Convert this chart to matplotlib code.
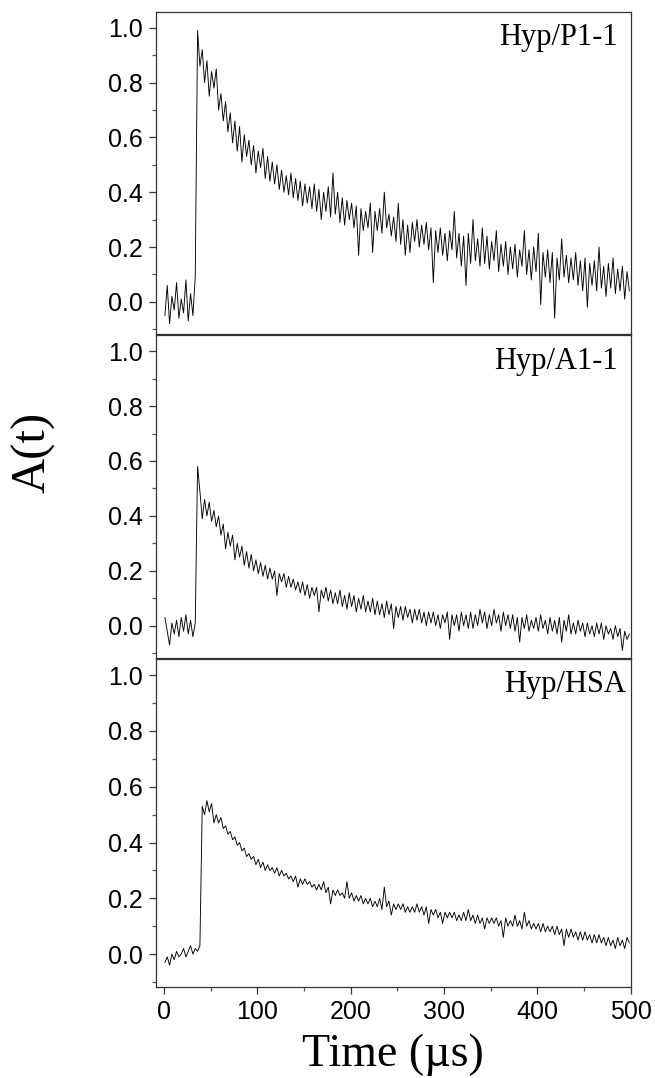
import numpy as np
import matplotlib
matplotlib.use("Agg")
import matplotlib.pyplot as plt
from matplotlib.ticker import MultipleLocator, FormatStrFormatter

# 时间轴 (µs)，每 2.5 µs 取一个点
t = np.arange(1, 500, 2.5)

# 三条瞬态吸收曲线，从图上读出的数值
a_p1 = [-0.05, 0.06, -0.08, 0.02, -0.03, 0.07, -0.06, 0.01, -0.04, 0.08,
        -0.07, 0.03, -0.05, 0.09, 0.99, 0.86, 0.92, 0.80, 0.88, 0.75,
        0.84, 0.78, 0.85, 0.70, 0.76, 0.66, 0.73, 0.62, 0.69, 0.58,
        0.66, 0.55, 0.64, 0.51, 0.61, 0.53, 0.59, 0.50, 0.57, 0.47,
        0.55, 0.49, 0.56, 0.45, 0.53, 0.44, 0.51, 0.43, 0.50, 0.41,
        0.48, 0.40, 0.46, 0.39, 0.47, 0.38, 0.45, 0.37, 0.44, 0.35,
        0.43, 0.36, 0.42, 0.34, 0.43, 0.33, 0.41, 0.30, 0.40, 0.33,
        0.42, 0.31, 0.47, 0.32, 0.40, 0.29, 0.38, 0.28, 0.37, 0.30,
        0.36, 0.27, 0.35, 0.17, 0.34, 0.26, 0.33, 0.27, 0.36, 0.18,
        0.33, 0.26, 0.34, 0.25, 0.40, 0.27, 0.32, 0.24, 0.31, 0.22,
        0.36, 0.21, 0.30, 0.17, 0.28, 0.18, 0.29, 0.22, 0.30, 0.20,
        0.28, 0.21, 0.29, 0.19, 0.27, 0.07, 0.26, 0.18, 0.27, 0.17,
        0.25, 0.15, 0.26, 0.19, 0.33, 0.16, 0.25, 0.13, 0.24, 0.06,
        0.25, 0.14, 0.30, 0.15, 0.23, 0.13, 0.27, 0.14, 0.24, 0.12,
        0.22, 0.15, 0.26, 0.11, 0.21, 0.13, 0.22, 0.10, 0.20, 0.12,
        0.21, 0.09, 0.19, 0.13, 0.26, 0.10, 0.19, 0.08, 0.20, 0.11,
        0.25, -0.01, 0.18, 0.09, 0.19, 0.07, 0.18, -0.06, 0.16, 0.08,
        0.23, 0.09, 0.17, 0.07, 0.16, 0.08, 0.18, 0.06, 0.15, 0.04,
        0.16, -0.02, 0.14, 0.06, 0.15, 0.04, 0.20, 0.05, 0.13, 0.02,
        0.14, 0.05, 0.16, 0.03, 0.12, 0.04, 0.13, 0.01, 0.11, 0.04]

a_a1 = [0.03, -0.02, -0.07, 0.01, -0.03, 0.02, -0.04, 0.03, -0.02, 0.04,
        -0.03, 0.02, -0.04, 0.01, 0.58, 0.49, 0.39, 0.46, 0.40, 0.45,
        0.38, 0.42, 0.36, 0.40, 0.33, 0.37, 0.28, 0.34, 0.29, 0.33,
        0.24, 0.30, 0.25, 0.29, 0.22, 0.27, 0.21, 0.26, 0.20, 0.24,
        0.19, 0.23, 0.18, 0.22, 0.17, 0.21, 0.17, 0.20, 0.11, 0.19,
        0.16, 0.19, 0.14, 0.18, 0.14, 0.17, 0.13, 0.16, 0.12, 0.16,
        0.11, 0.15, 0.10, 0.14, 0.11, 0.14, 0.05, 0.13, 0.10, 0.14,
        0.09, 0.13, 0.08, 0.12, 0.08, 0.13, 0.07, 0.11, 0.06, 0.12,
        0.07, 0.11, 0.05, 0.10, 0.06, 0.11, 0.05, 0.09, 0.05, 0.10,
        0.04, 0.09, 0.04, 0.08, 0.03, 0.09, 0.04, 0.08, -0.01, 0.07,
        0.03, 0.07, 0.02, 0.07, 0.03, 0.06, 0.01, 0.06, 0.02, 0.06,
        0.01, 0.05, 0.00, 0.05, 0.01, 0.05, 0.00, 0.04, -0.01, 0.04,
        0.01, 0.05, -0.05, 0.04, 0.00, 0.04, -0.02, 0.05, 0.00, 0.04,
        -0.01, 0.05, -0.01, 0.04, 0.00, 0.06, 0.01, 0.05, -0.01, 0.04,
        0.00, 0.06, 0.01, 0.04, -0.02, 0.05, 0.00, 0.04, -0.01, 0.04,
        -0.02, 0.03, -0.06, 0.03, -0.01, 0.04, -0.02, 0.02, -0.01, 0.03,
        -0.02, 0.04, -0.01, 0.02, -0.03, 0.03, -0.02, 0.02, -0.03, 0.03,
        -0.06, 0.02, -0.02, 0.04, -0.03, 0.01, -0.03, 0.02, -0.02, 0.01,
        -0.04, 0.01, -0.03, 0.00, -0.04, 0.01, -0.03, 0.01, -0.05, 0.00,
        -0.03, -0.01, -0.05, 0.00, -0.04, -0.01, -0.09, -0.02, -0.05, -0.03]

a_hsa = [-0.03, -0.01, -0.04, 0.00, -0.02, 0.01, -0.01, 0.00, 0.02, -0.01,
         0.01, 0.03, 0.00, 0.02, 0.01, 0.03, 0.53, 0.50, 0.55, 0.51,
         0.54, 0.47, 0.50, 0.47, 0.49, 0.45, 0.46, 0.43, 0.44, 0.41,
         0.42, 0.39, 0.40, 0.37, 0.38, 0.35, 0.36, 0.34, 0.35, 0.32,
         0.34, 0.31, 0.33, 0.30, 0.32, 0.30, 0.31, 0.29, 0.31, 0.28,
         0.30, 0.28, 0.29, 0.27, 0.28, 0.26, 0.28, 0.24, 0.27, 0.25,
         0.27, 0.25, 0.26, 0.24, 0.25, 0.23, 0.25, 0.23, 0.26, 0.22,
         0.24, 0.18, 0.23, 0.21, 0.23, 0.21, 0.22, 0.20, 0.26, 0.20,
         0.22, 0.19, 0.21, 0.19, 0.21, 0.18, 0.20, 0.18, 0.20, 0.17,
         0.19, 0.17, 0.20, 0.16, 0.24, 0.17, 0.19, 0.14, 0.18, 0.16,
         0.18, 0.16, 0.18, 0.15, 0.17, 0.15, 0.17, 0.15, 0.18, 0.15,
         0.17, 0.14, 0.17, 0.11, 0.16, 0.14, 0.16, 0.13, 0.15, 0.11,
         0.15, 0.13, 0.15, 0.13, 0.15, 0.12, 0.14, 0.12, 0.15, 0.12,
         0.16, 0.12, 0.14, 0.11, 0.14, 0.11, 0.13, 0.09, 0.13, 0.11,
         0.13, 0.11, 0.13, 0.10, 0.12, 0.06, 0.13, 0.10, 0.12, 0.10,
         0.14, 0.10, 0.12, 0.09, 0.15, 0.10, 0.12, 0.09, 0.11, 0.09,
         0.11, 0.08, 0.11, 0.08, 0.10, 0.08, 0.10, 0.07, 0.10, 0.07,
         0.09, 0.03, 0.09, 0.06, 0.09, 0.06, 0.08, 0.05, 0.08, 0.05,
         0.08, 0.05, 0.07, 0.04, 0.07, 0.04, 0.07, 0.04, 0.06, 0.03,
         0.06, 0.03, 0.05, 0.02, 0.06, 0.03, 0.05, 0.02, 0.06, 0.04]

series = [a_p1, a_a1, a_hsa]
names = ["Hyp/P1-1", "Hyp/A1-1", "Hyp/HSA"]
label_x = [0.972, 0.972, 0.99]

fig = plt.figure(figsize=(6.55, 10.78), dpi=100)

# 三个面板上下紧贴
boxes = [[0.2375, 0.690, 0.7255, 0.299],
         [0.2375, 0.3895, 0.7255, 0.2995],
         [0.2375, 0.0844, 0.7255, 0.3043]]

for k in range(3):
    ax = fig.add_axes(boxes[k])
    ax.plot(t, series[k], color="black", linewidth=0.65)
    ax.set_xlim(-9, 500)
    ax.set_ylim(-0.118, 1.058)
    ax.yaxis.set_major_locator(MultipleLocator(0.2))
    ax.yaxis.set_minor_locator(MultipleLocator(0.1))
    ax.yaxis.set_major_formatter(FormatStrFormatter("%.1f"))
    ax.xaxis.set_major_locator(MultipleLocator(100))
    ax.xaxis.set_minor_locator(MultipleLocator(50))
    ax.tick_params(which="major", direction="out", length=5, width=0.9, color="#333333", pad=4)
    ax.tick_params(which="minor", direction="out", length=3, width=0.9, color="#555555")
    ax.tick_params(labelsize=18)
    for lab in ax.get_xticklabels() + ax.get_yticklabels():
        lab.set_family("Liberation Sans")
    if k < 2:
        ax.tick_params(which="both", bottom=False, labelbottom=False)
    for s in ax.spines.values():
        s.set_linewidth(0.9)
        s.set_color("#333333")
    ax.text(label_x[k], 0.965, names[k], transform=ax.transAxes, ha="right", va="top",
            family="Liberation Serif", fontsize=22)

fig.text(0.051, 0.58, "A(t)", rotation=90, ha="center", va="center",
         family="Liberation Serif", fontsize=35)
fig.text(0.6, 0.022, "Time (\u00b5s)", ha="center", va="center",
         family="Liberation Serif", fontsize=33)

plt.savefig("out.png", dpi=100)
